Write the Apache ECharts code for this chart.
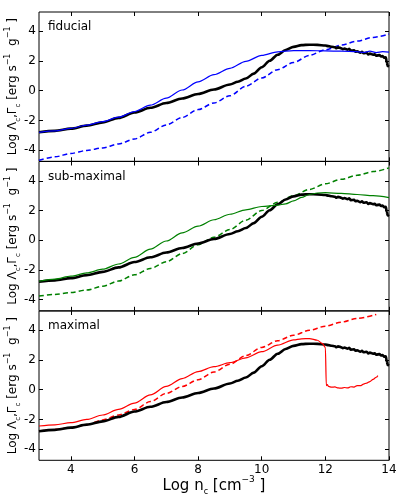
<!DOCTYPE html>
<html><head><meta charset="utf-8">
<script src="https://cdn.jsdelivr.net/npm/echarts@6/dist/echarts.min.js"></script>
<style>html,body{margin:0;padding:0;background:#fff}#c{width:399px;height:498px}</style>
</head><body><div id="c"></div>
<script>
// ---- data ----
const panelNames = ['fiducial', 'sub-maximal', 'maximal'];
const xTicks = [4, 6, 8, 10, 12, 14];
const yTicks = [-4, -2, 0, 2, 4];

const blackX = [3,3.5,4,4.5,5,5.5,6,6.5,7,7.5,8,8.5,9,9.25,9.5,9.75,10,10.25,10.5,10.75,11,11.25,11.5,11.75,12,12.1,12.2,12.3,12.35,12.4,12.5,12.55,12.6,12.7,12.75,12.8,12.9,12.95,13,13.1,13.15,13.2,13.3,13.35,13.4,13.5,13.55,13.6,13.7,13.75,13.8,13.85,13.9,13.93,13.96,14];
const blackY = [-2.8,-2.7,-2.55,-2.35,-2.13,-1.83,-1.47,-1.15,-0.83,-0.52,-0.22,0.08,0.42,0.6,0.82,1.15,1.58,2.02,2.42,2.74,2.95,3.07,3.1,3.09,3.04,3.0,2.96,2.93,2.86,2.92,2.86,2.8,2.84,2.76,2.82,2.7,2.72,2.62,2.66,2.56,2.62,2.52,2.56,2.44,2.5,2.42,2.46,2.36,2.4,2.3,2.34,2.22,2.25,1.9,1.66,1.62];

const blueX = [3,3.5,4,4.5,5,5.5,6,6.5,7,7.5,8,8.5,9,9.5,10,10.5,11,11.5,12,12.5,13,13.2,13.4,13.6,13.8,14];
const blueY = [-2.8,-2.7,-2.53,-2.32,-2.08,-1.78,-1.4,-0.97,-0.5,0.05,0.6,1.08,1.51,1.98,2.38,2.62,2.7,2.7,2.68,2.66,2.63,2.58,2.66,2.57,2.63,2.6];
const blueDashX = [3,3.5,4,4.5,5,5.5,6,6.5,7,7.5,8,8.5,9,9.5,10,10.5,11,11.5,12,12.5,13,13.5,14];
const blueDashY = [-4.68,-4.45,-4.22,-4.02,-3.85,-3.58,-3.25,-2.8,-2.3,-1.8,-1.27,-0.82,-0.34,0.3,0.86,1.42,1.9,2.38,2.76,3.07,3.34,3.59,3.82];

const greenX = [3,3.5,4,4.5,5,5.5,6,6.5,7,7.5,8,8.5,9,9.5,10,10.5,10.75,11,11.25,11.5,11.75,12,12.5,13,13.5,14];
const greenY = [-2.76,-2.62,-2.42,-2.2,-1.95,-1.6,-1.15,-0.6,-0.05,0.5,0.95,1.38,1.75,2.05,2.27,2.36,2.45,2.65,2.88,3.08,3.18,3.2,3.15,3.08,3.0,2.87];
const greenDashX = [3,3.5,4,4.5,5,5.5,6,6.5,7,7.5,8,8.5,9,9.5,10,10.5,11,11.5,12,12.5,13,13.5,14];
const greenDashY = [-3.76,-3.65,-3.52,-3.35,-3.1,-2.75,-2.33,-1.9,-1.45,-0.9,-0.3,0.2,0.72,1.35,2.0,2.55,3.0,3.42,3.8,4.1,4.37,4.62,4.87];

const redX = [3,3.5,4,4.5,5,5.5,6,6.5,7,7.5,8,8.5,9,9.5,10,10.5,11,11.25,11.5,11.75,11.9,12.0,12.03,12.06,12.1,12.2,12.3,12.4,12.5,12.6,12.7,12.8,12.9,13.0,13.1,13.2,13.3,13.4,13.5,13.6,13.65];
const redY = [-2.44,-2.36,-2.22,-2.0,-1.7,-1.32,-0.9,-0.35,0.22,0.75,1.22,1.55,1.82,2.15,2.56,3.0,3.35,3.43,3.44,3.33,3.12,2.85,0.28,0.35,0.22,0.17,0.19,0.12,0.11,0.15,0.12,0.2,0.18,0.28,0.27,0.38,0.45,0.55,0.7,0.84,0.95];
const redDashX = [3,3.5,4,4.5,5,5.5,6,6.5,7,7.5,8,8.5,9,9.5,10,10.5,11,11.5,12,12.5,13,13.6];
const redDashY = [-2.78,-2.68,-2.55,-2.35,-2.03,-1.7,-1.33,-0.8,-0.25,0.22,0.67,1.2,1.72,2.3,2.85,3.3,3.67,4.0,4.28,4.55,4.8,5.07];

// ---- chart ----
const pairs = (xs, ys) => xs.map((x, i) => [x, ys[i]]);
const FONT = 'DejaVu Sans';
const gridTops = [12, 161.5, 311];
const gridH = 149.3;

const grids = [], xAxes = [], yAxes = [], series = [], graphics = [];
const richStyles = {
  n: { fontSize: 12, fontFamily: FONT, color: '#000', lineHeight: 18 },
  sb: { fontSize: 7, fontFamily: FONT, color: '#000', lineHeight: 9, verticalAlign: 'bottom' },
  sp: { fontSize: 8, fontFamily: FONT, color: '#000', lineHeight: 9, verticalAlign: 'top' }
};
const colored = [
  [[blueX, blueY, '#0000ff'], [blueDashX, blueDashY, '#0000ff']],
  [[greenX, greenY, '#008000'], [greenDashX, greenDashY, '#008000']],
  [[redX, redY, '#ff0000'], [redDashX, redDashY, '#ff0000']]
];
const noLine = { show: false, onZero: false };

for (let k = 0; k < 3; k++) {
  grids.push({ left: 39, width: 350, top: gridTops[k], height: gridH, show: true,
    containLabel: false, outerBoundsMode: 'none',
    borderColor: '#000', borderWidth: 1, backgroundColor: 'transparent' });
  const last = k === 2;
  xAxes.push({ type: 'value', gridIndex: k, position: 'bottom', min: 3, max: 14,
    axisLine: noLine, splitLine: { show: false },
    axisTick: { show: true, inside: true, length: 4, customValues: xTicks, lineStyle: { color: '#000' } },
    axisLabel: { show: last, customValues: xTicks, margin: 4, color: '#000', fontSize: 12, fontFamily: FONT },
    name: last ? '{n|Log n}{sb|c}{n| [cm}{sp|−3}{n| ]}' : '',
    nameLocation: 'middle', nameGap: 15, nameMoveOverlap: false,
    nameTextStyle: { rich: {
      n: { fontSize: 15, fontFamily: FONT, color: '#000', lineHeight: 21 },
      sb: { fontSize: 8, fontFamily: FONT, color: '#000', lineHeight: 10, verticalAlign: 'bottom' },
      sp: { fontSize: 9, fontFamily: FONT, color: '#000', lineHeight: 10, verticalAlign: 'top' } } }
  });
  xAxes.push({ type: 'value', gridIndex: k, position: 'top', min: 3, max: 14,
    axisLine: noLine, splitLine: { show: false },
    axisTick: { show: true, inside: true, length: 4, customValues: xTicks, lineStyle: { color: '#000' } },
    axisLabel: { show: false } });
  yAxes.push({ type: 'value', gridIndex: k, position: 'left', min: -4.75, max: 5.3,
    axisLine: noLine, splitLine: { show: false },
    axisTick: { show: true, inside: true, length: 4, customValues: yTicks, lineStyle: { color: '#000' } },
    axisLabel: { show: true, customValues: yTicks, margin: 3, color: '#000', fontSize: 12, fontFamily: FONT },
    name: '{n|Log Λ}{sb|c}{n|,Γ}{sb|c}{n| [erg s}{sp|−1}{n|  g}{sp|−1}{n| ]}',
    nameLocation: 'middle', nameGap: 17, nameRotate: 90, nameMoveOverlap: false,
    nameTextStyle: { rich: richStyles }
  });
  yAxes.push({ type: 'value', gridIndex: k, position: 'right', min: -4.75, max: 5.3,
    axisLine: noLine, splitLine: { show: false },
    axisTick: { show: true, inside: true, length: 4, customValues: yTicks, lineStyle: { color: '#000' } },
    axisLabel: { show: false } });

  const [sol, dash] = colored[k];
  series.push({ type: 'line', xAxisIndex: 2 * k, yAxisIndex: 2 * k, data: pairs(dash[0], dash[1]),
    showSymbol: false, smooth: 0.3, smoothMonotone: 'x',
    lineStyle: { color: dash[2], width: 1.5, type: [5, 3] }, z: 2 });
  series.push({ type: 'line', xAxisIndex: 2 * k, yAxisIndex: 2 * k, data: pairs(blackX, blackY),
    showSymbol: false, smooth: 0.3, smoothMonotone: 'x',
    lineStyle: { color: '#000', width: 2.6 }, z: 3 });
  series.push({ type: 'line', xAxisIndex: 2 * k, yAxisIndex: 2 * k, data: pairs(sol[0], sol[1]),
    showSymbol: false, smooth: 0.3, smoothMonotone: 'x',
    lineStyle: { color: sol[2], width: 1.2 }, z: 4 });

  graphics.push({ type: 'text', left: 48, top: gridTops[k] + 9,
    style: { text: panelNames[k], fontSize: 12, fontFamily: FONT, fill: '#000' } });
}

const chart = echarts.init(document.getElementById('c'), null, { renderer: 'canvas' });
chart.setOption({
  animation: false,
  backgroundColor: '#fff',
  grid: grids, xAxis: xAxes, yAxis: yAxes, series: series, graphic: graphics
});
</script></body></html>
